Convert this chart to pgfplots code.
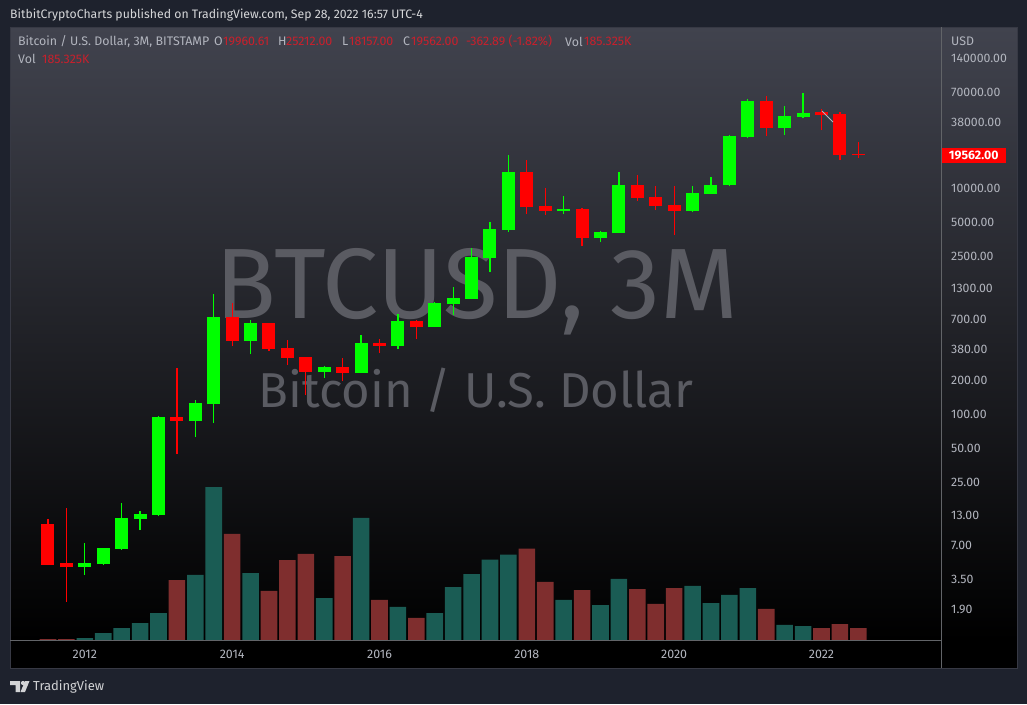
\documentclass[border=0pt]{standalone}
\usepackage{pgfplots}
\pgfplotsset{compat=1.18}
\usepackage{pgfplotstable}
\usepackage{fontspec}
\setmainfont{Fira Sans}
\definecolor{canvas}{HTML}{1E222D}
\definecolor{panel}{HTML}{41434E}
\definecolor{upc}{HTML}{00FF00}
\definecolor{downc}{HTML}{FF0000}
\definecolor{volup}{HTML}{1A5C54}
\definecolor{voldown}{HTML}{7F2E2E}
\definecolor{ticktext}{HTML}{B2B5BE}
\definecolor{valred}{HTML}{C8202C}
\definecolor{mark}{HTML}{5A5B62}

% quarterly candles: index, open, high, low, close
\pgfplotstableread{
i o h l c
2 4.45 7.24 3.78 4.83
3 4.73 6.54 4.63 6.54
4 6.41 16.35 6.35 12.05
5 11.81 13.89 9.44 13.07
6 12.81 96.0 12.55 94.1
8 86.7 132.9 62.6 125.0
9 122.5 1149 83.3 719.5
11 441.5 676.9 339.0 636.8
15 235.0 265.5 208.0 260.2
17 230.3 498.9 230.3 423.9
19 398.8 764.8 375.2 663.3
21 587.0 976.5 587.0 956.8
22 937.5 1324 749.4 1058.8
23 1037.5 2928 1037.5 2439
24 2390 4971 1797 4311
25 4224 19428 4056 13747
28 6217 8436 5849 6476
30 3589 4139 3309 4056
31 3974 13747 3974 10552
35 6217 10339 6092 8967
36 8786 12417 8786 10552
37 10552 29185 10339 28596
38 28020 60708 27456 58287
40 33651 52649 29185 42956
41 42092 68590 41245 45661
}\upcandles
\pgfplotstableread{
i o h l c
0 10.67 11.81 4.63 4.63
1 4.83 14.77 2.18 4.45
7 94.1 254.9 44.3 86.7
10 719.5 956.8 398.8 441.5
12 636.8 636.8 360.3 375.2
13 382.9 450.6 271 312.5
14 318.9 318.9 147.1 235.0
16 260.2 312.5 195.7 230.3
18 423.9 459.9 345.9 398.8
20 663.3 676.9 459.9 587.0
26 13747 17548 5849 6745
27 6883 9927 5731 6217
29 6476 6609 3050 3589
32 10552 12933 7620 8099
33 8266 10339 6345 6883
34 7025 10339 3815 6217
39 58287 64530 28596 33651
42 46599 49532 32309 43840
43 44741 46599 17548 19428
44 19960.61 25212 18157 19562
}\downcandles
% volume, thousands
\pgfplotstableread{
i v
2 31
3 108
4 185
5 262
6 417
8 1004
9 2362
11 1034
15 648
17 1884
19 510
21 417
22 818
23 1019
24 1243
25 1320
28 618
30 540
31 942
35 834
36 571
37 695
38 803
40 232
41 216
}\upvol
\pgfplotstableread{
i v
0 15
1 15
7 926
10 1637
12 757
13 1235
14 1328
16 1297
18 618
20 340
26 1411
27 896
29 772
32 787
33 556
34 803
39 479
42 185
43 247
44 185.325
}\downvol

% one wick and one body per table row
\newcommand\candles[2]{%
  \pgfplotstablegetrowsof{#1}%
  \pgfmathtruncatemacro\lastrow{\pgfplotsretval-1}%
  \pgfplotsforeachungrouped \r in {0,...,\lastrow}{%
    \pgfplotstablegetelem{\r}{i}\of{#1}\let\ci\pgfplotsretval
    \pgfplotstablegetelem{\r}{o}\of{#1}\let\co\pgfplotsretval
    \pgfplotstablegetelem{\r}{h}\of{#1}\let\ch\pgfplotsretval
    \pgfplotstablegetelem{\r}{l}\of{#1}\let\cl\pgfplotsretval
    \pgfplotstablegetelem{\r}{c}\of{#1}\let\cc\pgfplotsretval
    \edef\tmp{\noexpand\addplot[#2,line width=1.3pt,forget plot] coordinates {(\ci,\cl) (\ci,\ch)};
      \noexpand\addplot[#2,line width=13pt,forget plot] coordinates {(\ci,\co) (\ci,\cc)};}%
    \tmp
  }%
}

\begin{document}
\begin{tikzpicture}
\begin{scope}[x=1pt,y=-1pt]
\useasboundingbox (0,0) rectangle (1027,704);
\fill[canvas] (0,0) rectangle (1027,704);
\shade[top color=panel,bottom color=black] (10,27) rectangle (1017,640);
\fill[black] (10,640) rectangle (1017,668);
\draw[line width=1pt,color=panel!70!canvas] (10,27) rectangle (1017,668);

% watermark
\node[anchor=center,text=mark,inner sep=0pt,font=\fontsize{100}{100}\selectfont] at (477,292) {BTCUSD, 3M};
\node[anchor=center,text=mark,inner sep=0pt,font=\fontsize{49}{49}\selectfont] at (476,390) {Bitcoin / U.S. Dollar};
\end{scope}

% volume pane
\begin{axis}[
  at={(10pt,-640pt)},anchor=south west,
  scale only axis,width=931pt,height=613pt,
  xmin=-2.063,xmax=48.49,ymin=0,ymax=9465,
  axis lines=none,
  ybar,bar width=16.6pt,bar shift=0pt,
]
\addplot[fill=volup,draw=none] table[x=i,y=v] {\upvol};
\addplot[fill=voldown,draw=none] table[x=i,y=v] {\downvol};
\end{axis}

% price pane
\begin{axis}[
  at={(10pt,-640pt)},anchor=south west,
  scale only axis,width=931pt,height=613pt,
  xmin=-2.063,xmax=48.49,ymin=1.0095,ymax=262600,
  ymode=log,
  axis line style={draw=none},
  major tick length=0pt,
  minor tick length=0pt,
  xtick={2,10,18,26,34,42},
  xticklabels={2012,2014,2016,2018,2020,2022},
  xticklabel style={font=\fontsize{12.4}{12}\selectfont,text=ticktext,anchor=center,yshift=-14pt,inner sep=0pt},
  ytick pos=right,
  yticklabel pos=right,
  ytick={140000,70000,38000,10000,5000,2500,1300,700,380,200,100,50,25,13,7,3.5,1.9},
  yticklabels={140000.00,70000.00,38000.00,10000.00,5000.00,2500.00,1300.00,700.00,380.00,200.00,100.00,50.00,25.00,13.00,7.00,3.50,1.90},
  yticklabel style={font=\fontsize{12.3}{12}\selectfont,text=ticktext,anchor=west,inner sep=0pt,xshift=10pt,yshift=-0.6pt},
  extra y ticks={19562},
  extra y tick labels={\textbf{19562.00}},
  extra y tick style={yticklabel style={fill=downc,text=white,anchor=west,inner ysep=3pt,inner xsep=0pt,text width=65pt,align=center,xshift=-10pt}},
]
\candles{\upcandles}{upc}
\candles{\downcandles}{downc}
\end{axis}

\begin{scope}[x=1pt,y=-1pt]
% pane rules and the small drawn arrow
\draw[line width=1pt,color=ticktext!55!black] (10,640.5) -- (941,640.5);
\draw[line width=1pt,color=ticktext!55!black] (941,27) -- (941,668);
\draw[line width=0.8pt,color=ticktext] (822,111) -- (833,122);

% header and legend
\node[anchor=west,inner sep=0pt,text=white!82!canvas,font=\fontsize{12.25}{12}\selectfont] at (10,15) {BitbitCryptoCharts published on TradingView.com, Sep 28, 2022 16:57 UTC-4};
\begin{scope}[every node/.style={anchor=west,inner sep=0pt,font=\fontsize{12.4}{12}\selectfont}]
\node[text=ticktext] at (18,41.5) {Bitcoin / U.S. Dollar, 3M, BITSTAMP};
\node[text=ticktext] at (214,41.5) {O};
\node[text=valred] at (223,41.5) {19960.61};
\node[text=ticktext] at (278,41.5) {H};
\node[text=valred] at (286,41.5) {25212.00};
\node[text=ticktext] at (342,41.5) {L};
\node[text=valred] at (349,41.5) {18157.00};
\node[text=ticktext] at (403,41.5) {C};
\node[text=valred] at (411,41.5) {19562.00};
\node[text=valred] at (466,41.5) {-362.89 (-1.82\%)};
\node[text=ticktext] at (565,41.5) {Vol};
\node[text=valred] at (584,41.5) {185.325K};
\node[text=ticktext] at (18,59) {Vol};
\node[text=valred] at (42,59) {185.325K};
\node[text=ticktext] at (951,41) {USD};
\end{scope}

% logo
\fill[white!80!canvas] (10,681) -- (20,681) -- (20,692) -- (15.5,692) -- (15.5,685) -- (10,685) -- cycle;
\fill[white!80!canvas] (23,683) circle (2.1);
\fill[white!80!canvas] (25,681) -- (29.5,681) -- (25,692) -- (20.5,692) -- cycle;
\node[anchor=west,inner sep=0pt,text=white!80!canvas,font=\fontsize{13}{13}\selectfont] at (33,686.5) {TradingView};
\end{scope}
\end{tikzpicture}
\end{document}
